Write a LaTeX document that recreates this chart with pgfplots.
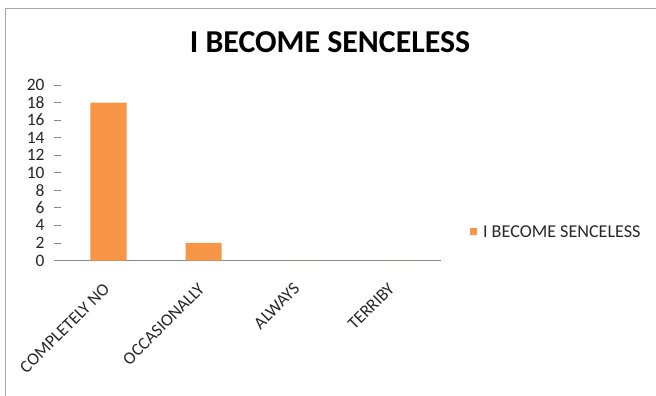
\documentclass[border=0pt]{standalone}
\usepackage{pgfplots}
\pgfplotsset{compat=1.18}
\usepackage{fontspec}
\setmainfont{Carlito}
\definecolor{barorange}{HTML}{F79646}
\definecolor{framegray}{HTML}{A6A6A6}
\definecolor{axisgray}{HTML}{878787}
\definecolor{labelgray}{HTML}{262626}
\begin{document}
\begin{tikzpicture}
\useasboundingbox (0,0) rectangle (656bp,396bp);
% chart frame (left and top edges)
\draw[framegray, line width=1.6bp] (5.5bp,0) -- (5.5bp,387.5bp) -- (656bp,387.5bp);
% title
\node[anchor=base, font=\fontsize{32}{36}\selectfont\bfseries, text=black] at (330bp,343bp) {I BECOME SENCELESS};
\begin{axis}[
  at={(61bp,135.5bp)}, anchor=south west,
  scale only axis, width=380bp, height=175.5bp,
  xmin=0.5, xmax=4.5, ymin=0, ymax=20,
  axis x line*=bottom, axis y line*=left,
  y axis line style={draw=none},
  x axis line style={axisgray, line width=0.8bp},
  ytick={0,2,...,20},
  ytick style={axisgray, line width=0.8bp},
  tick align=outside,
  major tick length=7bp,
  xtick={1,2,3,4},
  xticklabels={COMPLETELY NO, OCCASIONALLY, ALWAYS, TERRIBY},
  xtick style={draw=none},
  extra x ticks={0.5,1.5,2.5,3.5,4.5},
  extra x tick labels={},
  extra x tick style={major tick length=5bp, tick style={axisgray, line width=0.8bp}},
  /pgf/number format/assume math mode=true,
  ticklabel style={font=\fontsize{17.5}{20}\selectfont, text=labelgray},
  yticklabel style={xshift=-6bp},
  xticklabel style={xshift=-6bp, yshift=-13bp, rotate=45, anchor=north east, inner sep=1bp},
  legend style={at={(rel axis cs:1.076,0.163)}, anchor=west, draw=none, fill=none,
    inner sep=0pt, font=\fontsize{18.2}{20}\selectfont, text=labelgray,
    /tikz/every even column/.append style={column sep=0pt}},
  legend image code/.code={\fill[barorange] (0bp,-3.5bp) rectangle (7bp,3.5bp);},
  legend cell align=left,
  legend style={nodes={inner xsep=6bp}},
]
\addplot[ybar, bar width=36bp, fill=barorange, draw=none] coordinates {
  (1,18) (2,2) (3,0) (4,0)
};
\addlegendentry{I BECOME SENCELESS}
\end{axis}
\end{tikzpicture}
\end{document}
